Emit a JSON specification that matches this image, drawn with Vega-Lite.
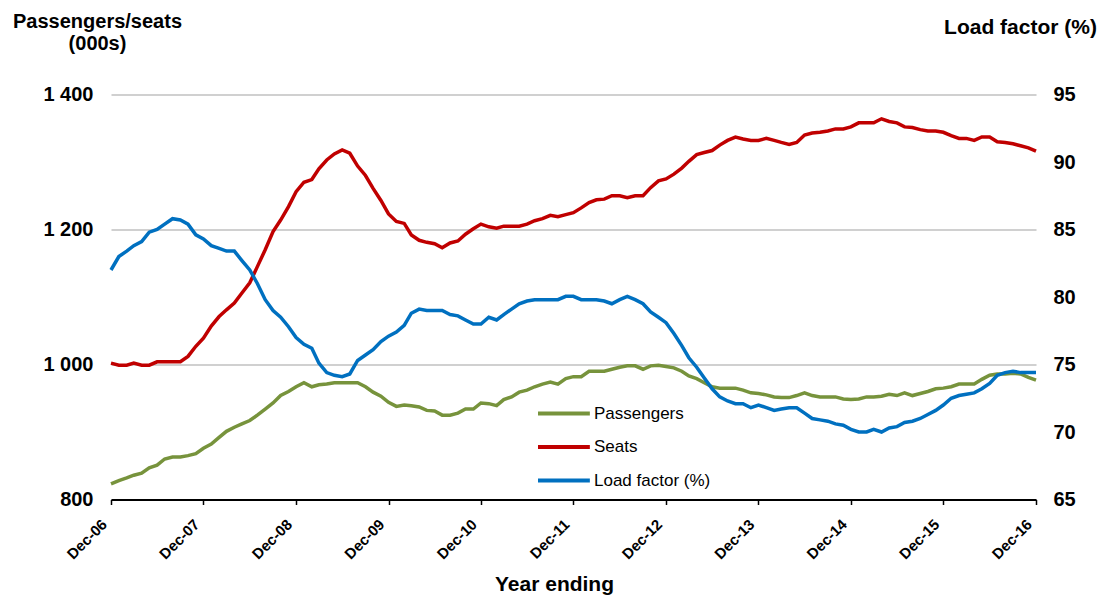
{
  "$schema": "https://vega.github.io/schema/vega-lite/v6.json",
  "width": 925,
  "height": 405,
  "autosize": {"type": "none"},
  "padding": {"left": 111, "top": 94.5, "right": 68, "bottom": 100.5},
  "background": "white",
  "config": {
    "view": {"stroke": null},
    "font": "Liberation Sans",
    "axis": {"labelColor": "#000", "titleColor": "#000", "labelFont": "Liberation Sans", "titleFont": "Liberation Sans"}
  },
  "data": {"values": [
    {"d":"2006-12-01","Passengers":823,"Seats":1002,"Load factor (%)":82.0},
    {"d":"2007-01-01","Passengers":828,"Seats":999,"Load factor (%)":83.0},
    {"d":"2007-02-01","Passengers":832,"Seats":999,"Load factor (%)":83.4},
    {"d":"2007-03-01","Passengers":836,"Seats":1002,"Load factor (%)":83.8},
    {"d":"2007-04-01","Passengers":839,"Seats":999,"Load factor (%)":84.1},
    {"d":"2007-05-01","Passengers":847,"Seats":999,"Load factor (%)":84.8},
    {"d":"2007-06-01","Passengers":851,"Seats":1004,"Load factor (%)":85.0},
    {"d":"2007-07-01","Passengers":860,"Seats":1004,"Load factor (%)":85.4},
    {"d":"2007-08-01","Passengers":863,"Seats":1004,"Load factor (%)":85.8},
    {"d":"2007-09-01","Passengers":863,"Seats":1004,"Load factor (%)":85.7},
    {"d":"2007-10-01","Passengers":865,"Seats":1012,"Load factor (%)":85.4},
    {"d":"2007-11-01","Passengers":868,"Seats":1027,"Load factor (%)":84.6},
    {"d":"2007-12-01","Passengers":876,"Seats":1039,"Load factor (%)":84.3},
    {"d":"2008-01-01","Passengers":882,"Seats":1057,"Load factor (%)":83.8},
    {"d":"2008-02-01","Passengers":892,"Seats":1071,"Load factor (%)":83.6},
    {"d":"2008-03-01","Passengers":901,"Seats":1081,"Load factor (%)":83.4},
    {"d":"2008-04-01","Passengers":907,"Seats":1091,"Load factor (%)":83.4},
    {"d":"2008-05-01","Passengers":912,"Seats":1106,"Load factor (%)":82.7},
    {"d":"2008-06-01","Passengers":917,"Seats":1121,"Load factor (%)":82.0},
    {"d":"2008-07-01","Passengers":925,"Seats":1145,"Load factor (%)":81.0},
    {"d":"2008-08-01","Passengers":934,"Seats":1170,"Load factor (%)":79.8},
    {"d":"2008-09-01","Passengers":943,"Seats":1197,"Load factor (%)":79.0},
    {"d":"2008-10-01","Passengers":954,"Seats":1214,"Load factor (%)":78.5},
    {"d":"2008-11-01","Passengers":960,"Seats":1234,"Load factor (%)":77.8},
    {"d":"2008-12-01","Passengers":967,"Seats":1256,"Load factor (%)":77.0},
    {"d":"2009-01-01","Passengers":973,"Seats":1270,"Load factor (%)":76.5},
    {"d":"2009-02-01","Passengers":967,"Seats":1274,"Load factor (%)":76.2},
    {"d":"2009-03-01","Passengers":970,"Seats":1290,"Load factor (%)":75.1},
    {"d":"2009-04-01","Passengers":971,"Seats":1303,"Load factor (%)":74.4},
    {"d":"2009-05-01","Passengers":973,"Seats":1312,"Load factor (%)":74.2},
    {"d":"2009-06-01","Passengers":973,"Seats":1318,"Load factor (%)":74.1},
    {"d":"2009-07-01","Passengers":973,"Seats":1313,"Load factor (%)":74.3},
    {"d":"2009-08-01","Passengers":973,"Seats":1294,"Load factor (%)":75.3},
    {"d":"2009-09-01","Passengers":967,"Seats":1280,"Load factor (%)":75.7},
    {"d":"2009-10-01","Passengers":959,"Seats":1261,"Load factor (%)":76.1},
    {"d":"2009-11-01","Passengers":953,"Seats":1243,"Load factor (%)":76.7},
    {"d":"2009-12-01","Passengers":944,"Seats":1223,"Load factor (%)":77.1},
    {"d":"2010-01-01","Passengers":938,"Seats":1212,"Load factor (%)":77.4},
    {"d":"2010-02-01","Passengers":940,"Seats":1209,"Load factor (%)":77.9},
    {"d":"2010-03-01","Passengers":939,"Seats":1192,"Load factor (%)":78.8},
    {"d":"2010-04-01","Passengers":937,"Seats":1184,"Load factor (%)":79.1},
    {"d":"2010-05-01","Passengers":932,"Seats":1181,"Load factor (%)":79.0},
    {"d":"2010-06-01","Passengers":931,"Seats":1179,"Load factor (%)":79.0},
    {"d":"2010-07-01","Passengers":925,"Seats":1173,"Load factor (%)":79.0},
    {"d":"2010-08-01","Passengers":925,"Seats":1180,"Load factor (%)":78.7},
    {"d":"2010-09-01","Passengers":928,"Seats":1183,"Load factor (%)":78.6},
    {"d":"2010-10-01","Passengers":934,"Seats":1193,"Load factor (%)":78.3},
    {"d":"2010-11-01","Passengers":934,"Seats":1201,"Load factor (%)":78.0},
    {"d":"2010-12-01","Passengers":943,"Seats":1208,"Load factor (%)":78.0},
    {"d":"2011-01-01","Passengers":942,"Seats":1204,"Load factor (%)":78.5},
    {"d":"2011-02-01","Passengers":939,"Seats":1202,"Load factor (%)":78.3},
    {"d":"2011-03-01","Passengers":948,"Seats":1205,"Load factor (%)":78.7},
    {"d":"2011-04-01","Passengers":952,"Seats":1205,"Load factor (%)":79.1},
    {"d":"2011-05-01","Passengers":959,"Seats":1205,"Load factor (%)":79.5},
    {"d":"2011-06-01","Passengers":962,"Seats":1208,"Load factor (%)":79.7},
    {"d":"2011-07-01","Passengers":967,"Seats":1213,"Load factor (%)":79.8},
    {"d":"2011-08-01","Passengers":971,"Seats":1216,"Load factor (%)":79.8},
    {"d":"2011-09-01","Passengers":974,"Seats":1221,"Load factor (%)":79.8},
    {"d":"2011-10-01","Passengers":971,"Seats":1219,"Load factor (%)":79.8},
    {"d":"2011-11-01","Passengers":979,"Seats":1222,"Load factor (%)":80.05},
    {"d":"2011-12-01","Passengers":982,"Seats":1225,"Load factor (%)":80.05},
    {"d":"2012-01-01","Passengers":982,"Seats":1232,"Load factor (%)":79.8},
    {"d":"2012-02-01","Passengers":990,"Seats":1240,"Load factor (%)":79.8},
    {"d":"2012-03-01","Passengers":990,"Seats":1244,"Load factor (%)":79.8},
    {"d":"2012-04-01","Passengers":990,"Seats":1245,"Load factor (%)":79.7},
    {"d":"2012-05-01","Passengers":993,"Seats":1250,"Load factor (%)":79.5},
    {"d":"2012-06-01","Passengers":996,"Seats":1250,"Load factor (%)":79.8},
    {"d":"2012-07-01","Passengers":998,"Seats":1247,"Load factor (%)":80.05},
    {"d":"2012-08-01","Passengers":998,"Seats":1250,"Load factor (%)":79.8},
    {"d":"2012-09-01","Passengers":993,"Seats":1250,"Load factor (%)":79.5},
    {"d":"2012-10-01","Passengers":998,"Seats":1262,"Load factor (%)":78.9},
    {"d":"2012-11-01","Passengers":999,"Seats":1272,"Load factor (%)":78.5},
    {"d":"2012-12-01","Passengers":997,"Seats":1275,"Load factor (%)":78.1},
    {"d":"2013-01-01","Passengers":995,"Seats":1282,"Load factor (%)":77.3},
    {"d":"2013-02-01","Passengers":990,"Seats":1291,"Load factor (%)":76.4},
    {"d":"2013-03-01","Passengers":983,"Seats":1301,"Load factor (%)":75.5},
    {"d":"2013-04-01","Passengers":979,"Seats":1311,"Load factor (%)":74.8},
    {"d":"2013-05-01","Passengers":973,"Seats":1314,"Load factor (%)":74.0},
    {"d":"2013-06-01","Passengers":967,"Seats":1317,"Load factor (%)":73.2},
    {"d":"2013-07-01","Passengers":965,"Seats":1325,"Load factor (%)":72.6},
    {"d":"2013-08-01","Passengers":965,"Seats":1332,"Load factor (%)":72.3},
    {"d":"2013-09-01","Passengers":965,"Seats":1337,"Load factor (%)":72.1},
    {"d":"2013-10-01","Passengers":962,"Seats":1334,"Load factor (%)":72.1},
    {"d":"2013-11-01","Passengers":958,"Seats":1332,"Load factor (%)":71.8},
    {"d":"2013-12-01","Passengers":957,"Seats":1332,"Load factor (%)":72.0},
    {"d":"2014-01-01","Passengers":955,"Seats":1335,"Load factor (%)":71.8},
    {"d":"2014-02-01","Passengers":952,"Seats":1332,"Load factor (%)":71.6},
    {"d":"2014-03-01","Passengers":951,"Seats":1329,"Load factor (%)":71.7},
    {"d":"2014-04-01","Passengers":951,"Seats":1326,"Load factor (%)":71.8},
    {"d":"2014-05-01","Passengers":954,"Seats":1329,"Load factor (%)":71.8},
    {"d":"2014-06-01","Passengers":958,"Seats":1340,"Load factor (%)":71.4},
    {"d":"2014-07-01","Passengers":954,"Seats":1343,"Load factor (%)":71.0},
    {"d":"2014-08-01","Passengers":952,"Seats":1344,"Load factor (%)":70.9},
    {"d":"2014-09-01","Passengers":952,"Seats":1346,"Load factor (%)":70.8},
    {"d":"2014-10-01","Passengers":952,"Seats":1349,"Load factor (%)":70.6},
    {"d":"2014-11-01","Passengers":949,"Seats":1349,"Load factor (%)":70.5},
    {"d":"2014-12-01","Passengers":948,"Seats":1352,"Load factor (%)":70.2},
    {"d":"2015-01-01","Passengers":949,"Seats":1358,"Load factor (%)":70.0},
    {"d":"2015-02-01","Passengers":952,"Seats":1358,"Load factor (%)":70.0},
    {"d":"2015-03-01","Passengers":952,"Seats":1358,"Load factor (%)":70.2},
    {"d":"2015-04-01","Passengers":953,"Seats":1364,"Load factor (%)":70.0},
    {"d":"2015-05-01","Passengers":956,"Seats":1360,"Load factor (%)":70.3},
    {"d":"2015-06-01","Passengers":954,"Seats":1358,"Load factor (%)":70.4},
    {"d":"2015-07-01","Passengers":958,"Seats":1352,"Load factor (%)":70.7},
    {"d":"2015-08-01","Passengers":954,"Seats":1351,"Load factor (%)":70.8},
    {"d":"2015-09-01","Passengers":957,"Seats":1348,"Load factor (%)":71.0},
    {"d":"2015-10-01","Passengers":960,"Seats":1346,"Load factor (%)":71.3},
    {"d":"2015-11-01","Passengers":964,"Seats":1346,"Load factor (%)":71.6},
    {"d":"2015-12-01","Passengers":965,"Seats":1344,"Load factor (%)":72.0},
    {"d":"2016-01-01","Passengers":967,"Seats":1339,"Load factor (%)":72.5},
    {"d":"2016-02-01","Passengers":971,"Seats":1335,"Load factor (%)":72.7},
    {"d":"2016-03-01","Passengers":971,"Seats":1335,"Load factor (%)":72.8},
    {"d":"2016-04-01","Passengers":971,"Seats":1332,"Load factor (%)":72.9},
    {"d":"2016-05-01","Passengers":978,"Seats":1337,"Load factor (%)":73.2},
    {"d":"2016-06-01","Passengers":984,"Seats":1337,"Load factor (%)":73.6},
    {"d":"2016-07-01","Passengers":986,"Seats":1330,"Load factor (%)":74.2},
    {"d":"2016-08-01","Passengers":986,"Seats":1329,"Load factor (%)":74.4},
    {"d":"2016-09-01","Passengers":987,"Seats":1327,"Load factor (%)":74.5},
    {"d":"2016-10-01","Passengers":986,"Seats":1324,"Load factor (%)":74.4},
    {"d":"2016-11-01","Passengers":981,"Seats":1321,"Load factor (%)":74.4},
    {"d":"2016-12-01","Passengers":977,"Seats":1316,"Load factor (%)":74.4}
  ]},
  "encoding": {
    "x": {
      "field": "d", "type": "temporal",
      "scale": {"type": "utc", "domain": [{"year": 2006, "month": 12, "date": 1, "utc": true}, {"year": 2016, "month": 12, "date": 1, "utc": true}]},
      "axis": {
        "values": [
          {"year": 2006, "month": 12, "date": 1, "utc": true},
          {"year": 2007, "month": 12, "date": 1, "utc": true},
          {"year": 2008, "month": 12, "date": 1, "utc": true},
          {"year": 2009, "month": 12, "date": 1, "utc": true},
          {"year": 2010, "month": 12, "date": 1, "utc": true},
          {"year": 2011, "month": 12, "date": 1, "utc": true},
          {"year": 2012, "month": 12, "date": 1, "utc": true},
          {"year": 2013, "month": 12, "date": 1, "utc": true},
          {"year": 2014, "month": 12, "date": 1, "utc": true},
          {"year": 2015, "month": 12, "date": 1, "utc": true},
          {"year": 2016, "month": 12, "date": 1, "utc": true}
        ],
        "labelExpr": "utcFormat(datum.value, '%b-%y')",
        "labelAngle": -45,
        "labelAlign": "right",
        "labelBaseline": "top",
        "labelFontSize": 15,
        "labelFontWeight": "bold",
        "labelPadding": 12,
        "labelOffset": -12,
        "labelOverlap": false,
        "labelFlush": false,
        "labelBound": false,
        "tickSize": 5,
        "tickColor": "#000",
        "tickWidth": 1.5,
        "domainColor": "#000",
        "domainWidth": 2,
        "grid": false,
        "title": "Year ending",
        "titleFontSize": 21,
        "titleFontWeight": "bold",
        "titleX": 443,
        "titleY": 91,
        "titleAlign": "center",
        "titleBaseline": "alphabetic"
      }
    }
  },
  "layer": [
    {
      "transform": [{"fold": ["Passengers", "Seats"], "as": ["series", "value"]}],
      "mark": {"type": "line", "strokeWidth": 3.5},
      "encoding": {
        "y": {
          "field": "value", "type": "quantitative",
          "scale": {"domain": [800, 1400], "nice": false, "zero": false},
          "axis": {
            "orient": "left",
            "values": [800, 1000, 1200, 1400],
            "labelExpr": "replace(datum.label, ',', ' ')",
            "labelFontSize": 20,
            "labelFontWeight": "bold",
            "labelPadding": 18,
            "domain": false,
            "ticks": false,
            "grid": true,
            "gridColor": "#c0c0c0",
            "gridWidth": 1.5,
            "title": ["Passengers/seats", "(000s)"],
            "titleAngle": 0,
            "titleX": -14,
            "titleY": -67.5,
            "titleAlign": "center",
            "titleBaseline": "alphabetic",
            "titleFontSize": 20,
            "titleFontWeight": "bold",
            "titleLineHeight": 22
          }
        },
        "color": {
          "field": "series", "type": "nominal",
          "scale": {"domain": ["Passengers", "Seats", "Load factor (%)"], "range": ["#77933C", "#C00000", "#0070C0"]},
          "legend": {
            "orient": "none",
            "legendX": 425,
            "legendY": 308.5,
            "title": null,
            "padding": 0,
            "symbolType": "M-1,0H5.1",
            "symbolSize": 289,
            "symbolStrokeWidth": 4,
            "symbolFillColor": "transparent",
            "labelFontSize": 17,
            "labelFont": "Liberation Sans",
            "labelColor": "#000",
            "labelOffset": 37,
            "rowPadding": 14.5
          }
        }
      }
    },
    {
      "transform": [{"fold": ["Load factor (%)"], "as": ["series", "value"]}],
      "mark": {"type": "line", "strokeWidth": 3.5},
      "encoding": {
        "y": {
          "field": "value", "type": "quantitative",
          "scale": {"domain": [65, 95], "nice": false, "zero": false},
          "axis": {
            "orient": "right",
            "values": [65, 70, 75, 80, 85, 90, 95],
            "labelFontSize": 20,
            "labelFontWeight": "bold",
            "labelPadding": 17,
            "domain": false,
            "ticks": false,
            "grid": false,
            "title": "Load factor (%)",
            "titleAngle": 0,
            "titleX": -16,
            "titleY": -61.5,
            "titleAlign": "center",
            "titleBaseline": "alphabetic",
            "titleFontSize": 21,
            "titleFontWeight": "bold"
          }
        },
        "color": {"field": "series", "type": "nominal"}
      }
    }
  ],
  "resolve": {"scale": {"y": "independent"}, "axis": {"y": "independent"}}
}
